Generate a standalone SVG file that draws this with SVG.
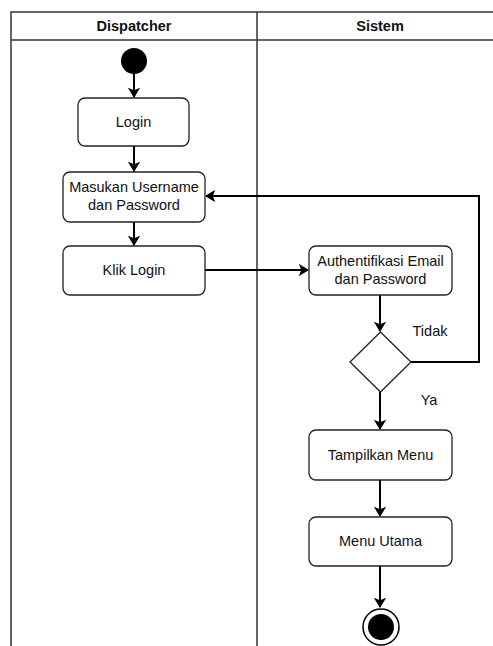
<svg xmlns="http://www.w3.org/2000/svg" width="493" height="646" viewBox="0 0 493 646">
<style>
.lane{fill:none;stroke:#333;stroke-width:1.5}
.box{fill:#fff;stroke:#222;stroke-width:1.3}
.t{font-family:"Liberation Sans",Arial,sans-serif;font-size:14.5px;fill:#111;text-anchor:middle}
.h{font-weight:bold}
.c{fill:none;stroke:#000;stroke-width:2}
</style>
<defs>
<marker id="ar" viewBox="0 0 10 12" refX="9" refY="6" markerWidth="5.2" markerHeight="6.2" orient="auto" markerUnits="strokeWidth">
<path d="M0,0 L10,6 L0,12 L2.5,6 Z" fill="#000"/>
</marker>
</defs>
<g id="swimlanes">
<path class="lane" d="M11,646 V12 H495 M11,40 H495 M257,12 V646"/>
<text class="t h" x="134" y="31">Dispatcher</text>
<text class="t h" x="380" y="31">Sistem</text>
</g>
<g id="connectors">
<path class="c" d="M134,74 V97" marker-end="url(#ar)"/>
<path class="c" d="M134,146 V171" marker-end="url(#ar)"/>
<path class="c" d="M134,222 V245" marker-end="url(#ar)"/>
<path class="c" d="M205,270 H308" marker-end="url(#ar)"/>
<path class="c" d="M380,295 V331" marker-end="url(#ar)"/>
<path class="c" d="M411,362 H479 V196 H206" marker-end="url(#ar)"/>
<path class="c" d="M380,392 V429" marker-end="url(#ar)"/>
<path class="c" d="M380,480 V516" marker-end="url(#ar)"/>
<path class="c" d="M380,566 V607" marker-end="url(#ar)"/>
<text class="t" x="430" y="336">Tidak</text>
<text class="t" x="429" y="405">Ya</text>
</g>
<g id="start"><circle cx="134" cy="61" r="13" fill="#000"/></g>
<g id="login"><rect class="box" x="78" y="98" width="111" height="48" rx="7"/><text class="t" x="133.5" y="127">Login</text></g>
<g id="masukan"><rect class="box" x="63" y="172" width="142" height="50" rx="7"/><text class="t" x="134" y="192">Masukan Username</text><text class="t" x="134" y="210">dan Password</text></g>
<g id="kliklogin"><rect class="box" x="63" y="246" width="142" height="49" rx="7"/><text class="t" x="134" y="275">Klik Login</text></g>
<g id="auth"><rect class="box" x="309" y="246" width="143" height="49" rx="7"/><text class="t" x="380.5" y="266">Authentifikasi Email</text><text class="t" x="380.5" y="284">dan Password</text></g>
<g id="decision"><path class="box" d="M380.5,332 L411,362 L380.5,392 L350,362 Z"/></g>
<g id="tampilkan"><rect class="box" x="309" y="430" width="143" height="50" rx="7"/><text class="t" x="380.5" y="460">Tampilkan Menu</text></g>
<g id="menuutama"><rect class="box" x="309" y="517" width="143" height="49" rx="7"/><text class="t" x="380.5" y="546">Menu Utama</text></g>
<g id="end"><circle cx="381" cy="627" r="18" fill="#fff" stroke="#000" stroke-width="1.5"/><circle cx="381" cy="627" r="13" fill="#000"/></g>
</svg>
